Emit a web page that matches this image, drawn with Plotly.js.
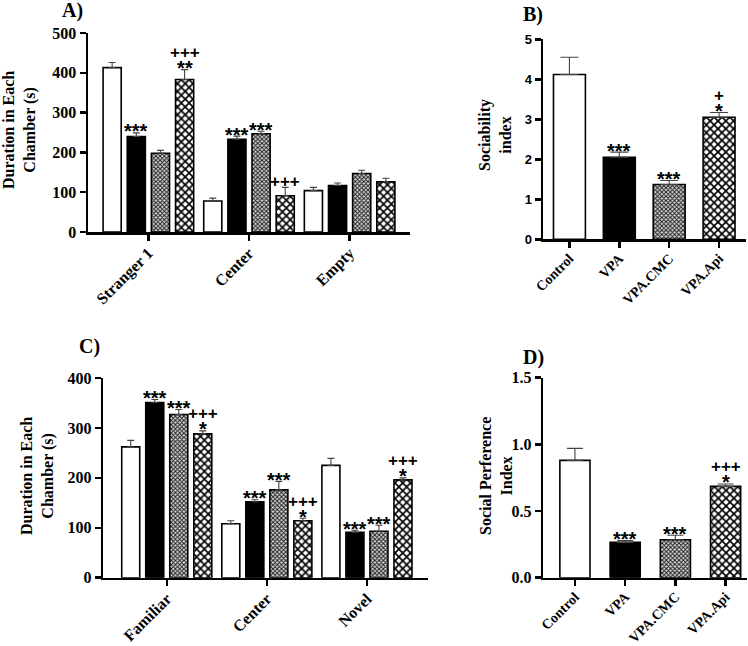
<!DOCTYPE html>
<html>
<head>
<meta charset="utf-8">
<script src="https://cdn.plot.ly/plotly-3.0.1.min.js"></script>
<style>html,body{margin:0;padding:0;background:#fff;}#chart{width:748px;height:646px;}</style>
</head>
<body>
<div id="chart"></div>
<script>
// ---------- DATA ----------
var groupNames = ["Control", "VPA", "VPA.CMC", "VPA.Api"];

// Panel A: three-chamber sociability (Stranger 1 / Center / Empty)
var chambersA = ["Stranger 1", "Center", "Empty"];
var meanA_Control = [413, 78, 104];
var meanA_VPA     = [240, 233, 117];
var meanA_CMC     = [198, 247, 147];
var meanA_Api     = [383, 91, 126];
var semA_Control  = [13, 7, 8];
var semA_VPA      = [9, 8, 6];
var semA_CMC      = [7, 6, 8];
var semA_Api      = [25, 21, 9];
var starsA = [["", "***", "", "**"], ["", "***", "***", ""], ["", "", "", ""]];
var plusA  = [["", "", "", "+++"], ["", "", "", "+++"], ["", "", "", ""]];

// Panel B: sociability index
var meanB = [4.12, 2.05, 1.37, 3.05];
var semB  = [0.43, 0.13, 0.10, 0.12];
var starsB = ["", "***", "***", "*"];
var plusB  = ["", "", "", "+"];

// Panel C: social novelty (Familiar / Center / Novel)
var chambersC = ["Familiar", "Center", "Novel"];
var meanC_Control = [262, 108, 225];
var meanC_VPA     = [351, 152, 91];
var meanC_CMC     = [327, 176, 93];
var meanC_Api     = [288, 114, 196];
var semC_Control  = [13, 6, 14];
var semC_VPA      = [6, 4, 4];
var semC_CMC      = [10, 17, 12];
var semC_Api      = [6, 5, 4];
var starsC = [["", "***", "***", "*"], ["", "***", "***", "*"], ["", "***", "***", "*"]];
var plusC  = [["", "", "", "+++"], ["", "", "", "+++"], ["", "", "", "+++"]];

// Panel D: social preference index
var meanD = [0.88, 0.265, 0.285, 0.685];
var semD  = [0.09, 0.013, 0.033, 0.018];
var starsD = ["", "***", "***", "*"];
var plusD  = ["", "", "", "+++"];

// ---------- STYLES ----------
var serif = "Liberation Serif, Times New Roman, serif";
var sans = "Liberation Sans, Arial, sans-serif";
function mk(k) {
  var base = {line: {color: "black", width: 1.6}};
  if (k === 0) base.color = "white";
  if (k === 1) base.color = "black";
  if (k === 2) { base.color = "white";
    base.pattern = {shape: "x", size: 3, solidity: 0.55, fgcolor: "#1e1e1e", bgcolor: "#d8d8d8", fillmode: "replace"}; }
  if (k === 3) { base.color = "white";
    base.pattern = {shape: "x", size: 5.5, solidity: 0.5, fgcolor: "black", bgcolor: "white", fillmode: "replace"}; }
  return base;
}

function errBar(arr, w) {
  return {type: "data", array: arr, arrayminus: arr.map(function(){return 0;}),
          symmetric: false, color: "#444", thickness: 1.1, width: w};
}

var traces = [];
var meansA = [meanA_Control, meanA_VPA, meanA_CMC, meanA_Api];
var semsA = [semA_Control, semA_VPA, semA_CMC, semA_Api];
var meansC = [meanC_Control, meanC_VPA, meanC_CMC, meanC_Api];
var semsC = [semC_Control, semC_VPA, semC_CMC, semC_Api];

for (var k = 0; k < 4; k++) {
  traces.push({type: "bar", x: chambersA, y: meansA[k], name: groupNames[k], xaxis: "x", yaxis: "y",
    marker: mk(k), error_y: errBar(semsA[k], 3.5), showlegend: false});
}
for (var kb = 0; kb < 4; kb++) {
  traces.push({type: "bar", x: [groupNames[kb]], y: [meanB[kb]], name: groupNames[kb], xaxis: "x2", yaxis: "y2",
    width: 0.64, offset: -0.32, marker: mk(kb), error_y: errBar([semB[kb]], 9), showlegend: false});
}
for (var k2 = 0; k2 < 4; k2++) {
  traces.push({type: "bar", x: chambersC, y: meansC[k2], name: groupNames[k2], xaxis: "x3", yaxis: "y3",
    marker: mk(k2), error_y: errBar(semsC[k2], 3.5), showlegend: false});
}
for (var kd = 0; kd < 4; kd++) {
  traces.push({type: "bar", x: [groupNames[kd]], y: [meanD[kd]], name: groupNames[kd], xaxis: "x4", yaxis: "y4",
    width: 0.6, offset: -0.3, marker: mk(kd), error_y: errBar([semD[kd]], 8), showlegend: false});
}

// ---------- ANNOTATIONS ----------
var ann = [];
var slot = 0.24;
function addSig(xref, yref, x, yTop, star, plus) {
  if (star && plus) {
    ann.push({xref: xref, yref: yref, x: x, y: yTop, showarrow: false,
      text: '<span style="font-size:17px">' + plus + '</span><br><span style="font-size:20px">' + star + '</span>',
      xanchor: "center", yanchor: "bottom", yshift: -10.5, borderpad: 0,
      font: {family: sans, size: 13, color: "black", weight: "bold"}});
  } else if (star) {
    ann.push({xref: xref, yref: yref, x: x, y: yTop, text: star, showarrow: false,
      xanchor: "center", yanchor: "bottom", yshift: -10.5, borderpad: 0,
      font: {family: sans, size: 20, color: "black", weight: "bold"}});
  } else if (plus) {
    ann.push({xref: xref, yref: yref, x: x, y: yTop, text: plus, showarrow: false,
      xanchor: "center", yanchor: "bottom", yshift: -4.5, borderpad: 0,
      font: {family: sans, size: 17, color: "black", weight: "bold"}});
  }
}
for (var g = 0; g < 3; g++) {
  for (var t = 0; t < 4; t++) {
    var off = (t - 1.5) * slot;
    addSig("x", "y", g + off, meansA[t][g] + semsA[t][g], starsA[g][t], plusA[g][t]);
    addSig("x3", "y3", g + off, meansC[t][g] + semsC[t][g], starsC[g][t], plusC[g][t]);
  }
}
for (var b = 0; b < 4; b++) {
  addSig("x2", "y2", b, meanB[b] + semB[b], starsB[b], plusB[b]);
  addSig("x4", "y4", b, meanD[b] + semD[b], starsD[b], plusD[b]);
}
function panelLabel(txt, x, y) {
  ann.push({xref: "paper", yref: "paper", x: x / 748, y: 1 - y / 646, text: txt, showarrow: false,
    xanchor: "left", yanchor: "middle", font: {family: serif, size: 20, color: "black", weight: "bold"}});
}
panelLabel("A)", 60, 11);
panelLabel("B)", 521, 14);
panelLabel("C)", 77, 346);
panelLabel("D)", 521, 357);
function yTitle(txt, x, y) {
  ann.push({xref: "paper", yref: "paper", x: x / 748, y: 1 - y / 646, text: txt, showarrow: false,
    textangle: -90, xanchor: "center", yanchor: "middle",
    font: {family: serif, size: 16, color: "black", weight: "bold"}});
}
yTitle("Duration in Each<br>Chamber (s)", 19, 130);
yTitle("Sociability<br>index", 495, 135);
yTitle("Duration in Each<br>Chamber (s)", 37, 476);
yTitle("Social Perference<br>Index", 496, 476);

// ---------- LAYOUT ----------
function px(a, b) { return [a / 748, b / 748]; }
function py(top, bottom) { return [1 - bottom / 646, 1 - top / 646]; }
function xAx(dom, rng, anchor, sz) {
  return {domain: dom, range: rng, anchor: anchor, type: "category", showline: true, linecolor: "black",
    linewidth: 2.5, ticks: "outside", ticklen: 6, tickwidth: 2.5, tickcolor: "black", tickangle: -45,
    showgrid: false, zeroline: false, fixedrange: true, ticklabelstandoff: -3,
    tickfont: {family: serif, size: sz, color: "black", weight: "bold"}};
}
function yAx(dom, rng, dt, anchor, fam, sz) {
  return {domain: dom, range: rng, dtick: dt, anchor: anchor, showline: true, linecolor: "black",
    linewidth: 2.5, ticks: "outside", ticklen: 6, tickwidth: 2.5, tickcolor: "black",
    showgrid: false, zeroline: false, fixedrange: true,
    tickfont: {family: fam, size: sz, color: "black", weight: "bold"}};
}
var layout = {
  width: 748, height: 646, margin: {l: 0, r: 0, t: 0, b: 0},
  paper_bgcolor: "white", plot_bgcolor: "white",
  barmode: "group", bargap: 0.04, bargroupgap: 0.25,
  xaxis:  xAx(px(88, 410), [-0.6, 2.6], "y", 16),
  yaxis:  yAx(py(33, 232), [0, 500], 100, "x", serif, 16),
  xaxis2: xAx(px(543, 746), [-0.53, 3.54], "y2", 14),
  yaxis2: yAx(py(39.3, 239.3), [0, 5], 1, "x2", sans, 13),
  xaxis3: xAx(px(103.3, 428), [-0.634, 2.61], "y3", 16),
  yaxis3: yAx(py(378, 577.7), [0, 400], 100, "x3", serif, 16),
  xaxis4: xAx(px(543.3, 746.7), [-0.63, 3.42], "y4", 14),
  yaxis4: yAx(py(377.7, 577.7), [0, 1.5], 0.5, "x4", serif, 16),
  annotations: ann
};
layout.yaxis4.tickformat = ".1f";
Plotly.newPlot("chart", traces, layout, {displayModeBar: false, staticPlot: true});
</script>
</body>
</html>
